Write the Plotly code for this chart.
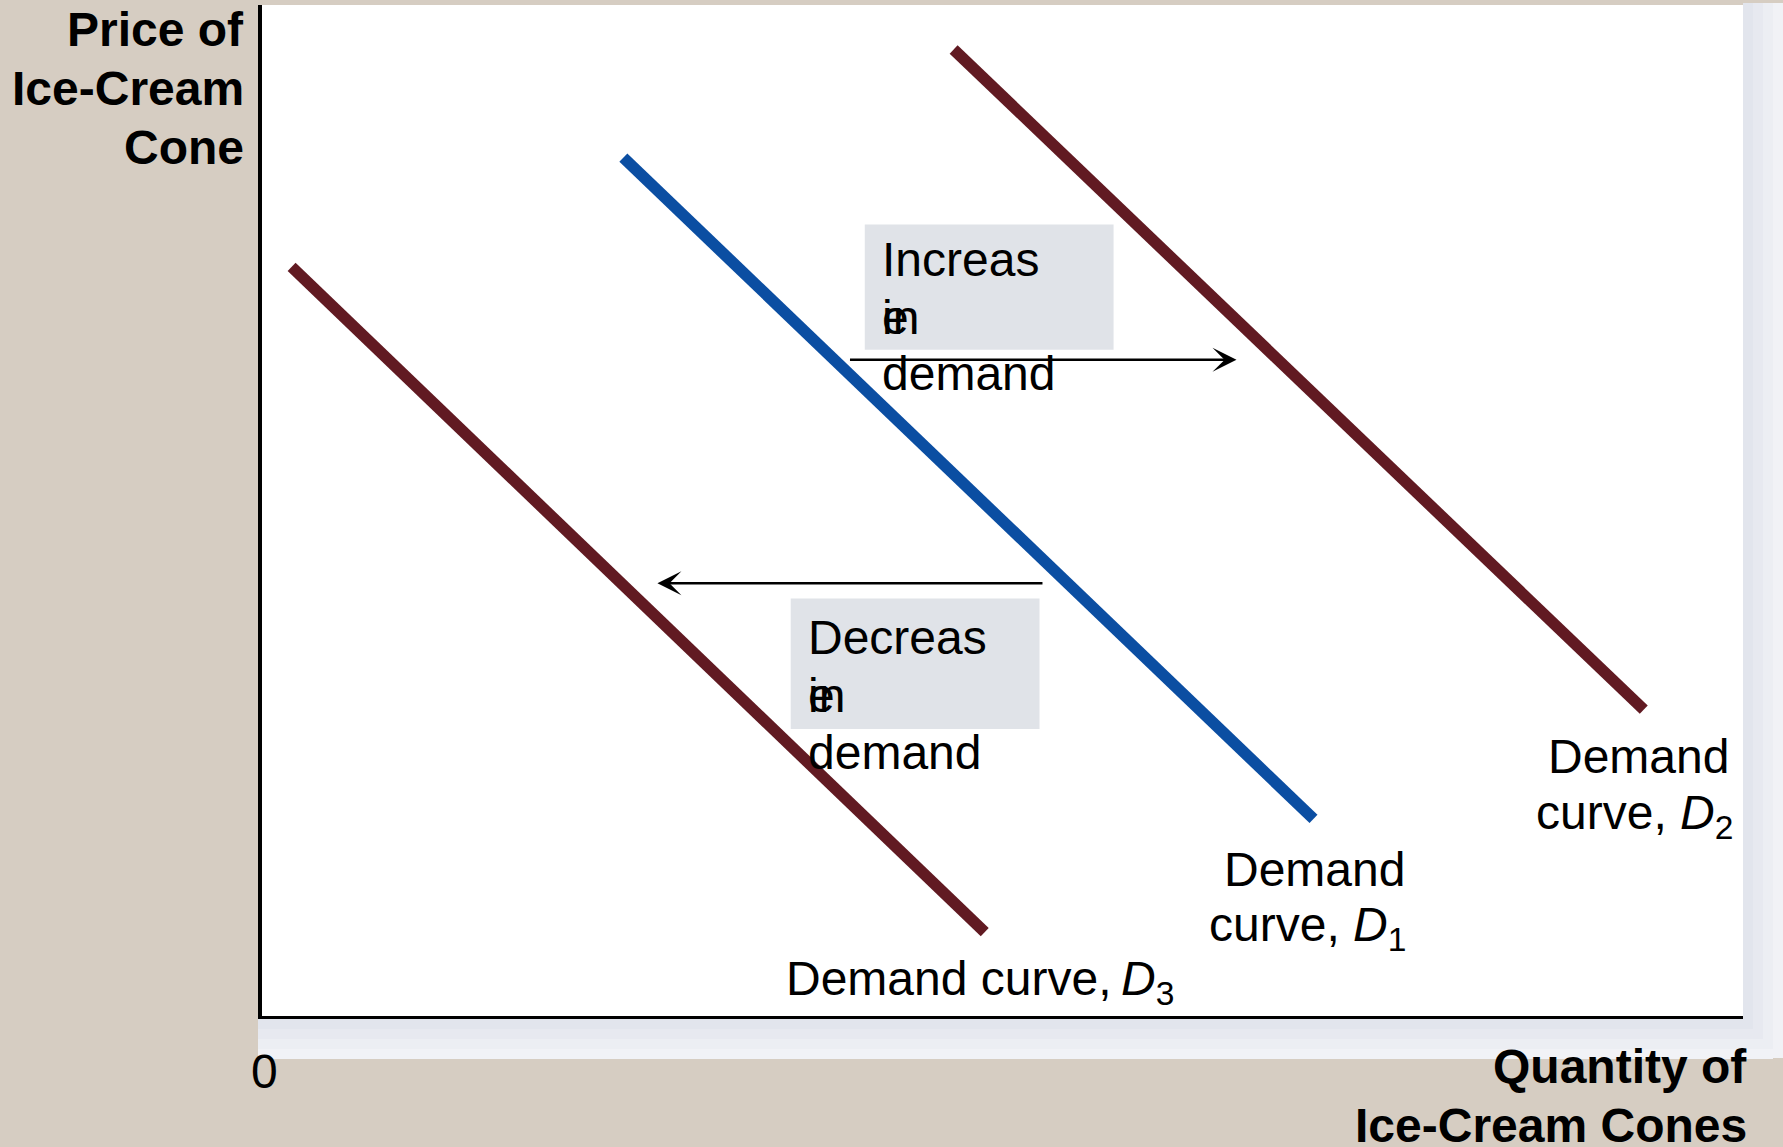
"""Shifts in the demand curve for ice-cream cones (Plotly)."""

import plotly.graph_objects as go

# demand curves, drawn on a 0-100 quantity / price scale
curve_names = ["D3", "D1", "D2"]
q_start = [2.0, 24.4, 46.7]
p_start = [74.1, 84.9, 95.6]
q_end = [48.8, 71.0, 93.3]
p_end = [8.3, 19.5, 30.3]
curve_colors = ["#611a22", "#0b4ea2", "#611a22"]

# shift arrows: (from quantity, to quantity, at price)
shift_from = [39.6, 52.8]
shift_to = [65.8, 26.7]
shift_price = [64.9, 42.8]

FONT = "Liberation Sans, Arial, sans-serif"
BEIGE = "#d6cdc2"
FS = 48

W, H = 1783, 1147
L, R, T, B = 262, 40, 5, 131
PW, PH = W - L - R, H - T - B


def px_x(px):
    return (px - L) / PW


def px_y(py):
    return (H - B - py) / PH


fig = go.Figure()

for name, x0, y0, x1, y1, c in zip(curve_names, q_start, p_start, q_end, p_end, curve_colors):
    fig.add_trace(go.Scatter(
        x=[x0, x1], y=[y0, y1], mode="lines", name=name,
        line=dict(color=c, width=11.5), hoverinfo="skip",
    ))

# grey label boxes behind the shift texts
for (x0, y0, x1, y1) in [(40.7, 65.9, 57.5, 78.3), (35.7, 28.4, 52.5, 41.3)]:
    fig.add_shape(type="rect", xref="x", yref="y", x0=x0, y0=y0, x1=x1, y1=y1,
                  fillcolor="#e0e3e8", line_width=0, layer="below")

# drop shadow on right and bottom of the panel
for i, c in enumerate(["#e2e5ed", "#e7e9f0", "#eceef3", "#f1f2f6"]):
    fig.add_shape(type="rect", xref="paper", yref="paper",
                  x0=px_x(1743 + i * 10), x1=px_x(1743 + (i + 1) * 10),
                  y0=px_y(1058), y1=px_y(3),
                  fillcolor=c, line_width=0, layer="below")
    fig.add_shape(type="rect", xref="paper", yref="paper",
                  x0=px_x(258), x1=px_x(1743 + i * 10),
                  y0=px_y(1019 + (i + 1) * 10), y1=px_y(1019 + i * 10),
                  fillcolor=c, line_width=0, layer="below")

for x0, x1, y in zip(shift_from, shift_to, shift_price):
    fig.add_annotation(
        x=x1, y=y, ax=x0, ay=y, xref="x", yref="y", axref="x", ayref="y",
        text="", showarrow=True, arrowhead=3, arrowsize=1.6, arrowwidth=2.5,
        arrowcolor="black", standoff=0,
    )


def label(text, x, baseline, anchor="left"):
    # one text line, placed by its baseline in page pixels
    fig.add_annotation(
        x=px_x(x), y=px_y(baseline - 16), xref="paper", yref="paper",
        text=text, showarrow=False, xanchor=anchor, yanchor="middle",
        align=anchor if anchor != "center" else "center",
        font=dict(size=FS, color="black", family=FONT),
    )


# shift labels (the wrapped "e" lands on top of "in")
for word, x, base in [("Increas", 880, 275), ("Decreas", 806, 653)]:
    label(word, x, base)
    label("in", x, base + 58)
    label("e", x, base + 58)
    label("demand", x, base + 115)

label("Demand", 1731, 772, "right")
label("curve, <i>D</i><sub>2</sub>", 1735, 832, "right")
label("Demand", 1407, 885, "right")
label("curve, <i>D</i><sub>1</sub>", 1408, 944, "right")
label("Demand curve,&#8201;<i>D</i><sub>3</sub>", 783.5, 998)

# axis titles and origin
label("<b>Price of</b>", 245.5, 45, "right")
label("<b>Ice-Cream</b>", 245.5, 105, "right")
label("<b>Cone</b>", 245.5, 163, "right")
label("<b>Quantity of</b>", 1749, 1082, "right")
label("<b>Ice-Cream Cones</b>", 1749, 1141, "right")
label("0", 264, 1087, "center")

axis = dict(showgrid=False, zeroline=False, showticklabels=False, ticks="",
            showline=True, linecolor="black", range=[0, 100], fixedrange=True)
fig.update_layout(
    width=W, height=H, autosize=False,
    margin=dict(l=L, r=R, t=T, b=B),
    paper_bgcolor=BEIGE, plot_bgcolor="white",
    showlegend=False,
    xaxis=dict(axis, linewidth=3),
    yaxis=dict(axis, linewidth=4),
    font=dict(family=FONT),
)

fig.write_html("out.html", config={"displayModeBar": False},
               post_script="document.body.style.margin='0';")
